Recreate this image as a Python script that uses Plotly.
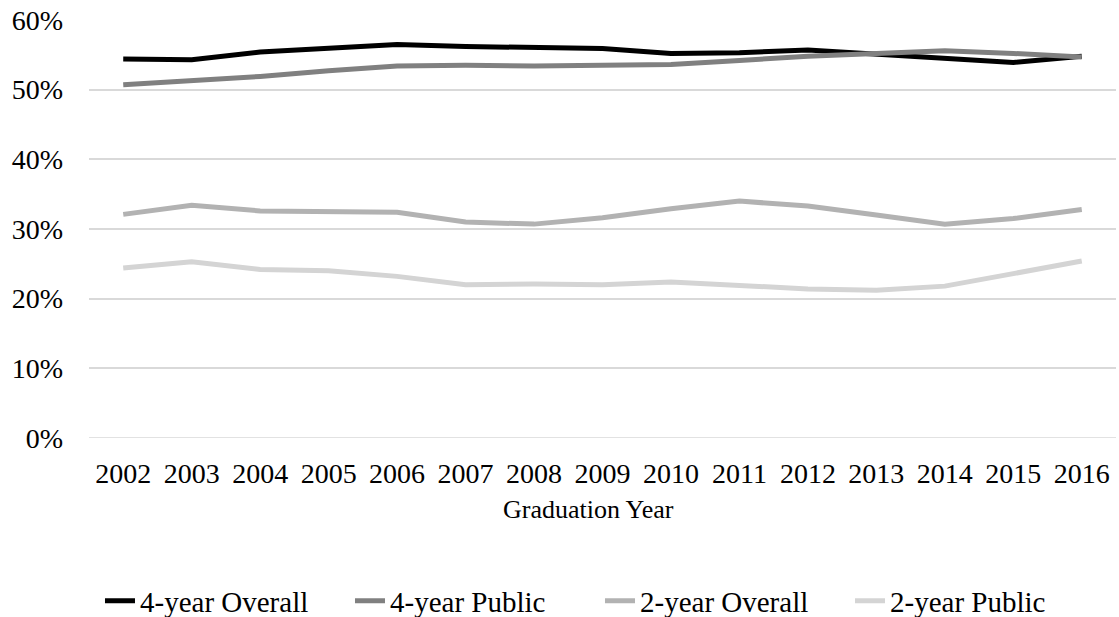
import plotly.graph_objects as go

years = [str(y) for y in range(2002, 2017)]

four_year_overall = [54.4, 54.3, 55.4, 56.0, 56.5, 56.2, 56.1, 55.9, 55.2, 55.3, 55.7, 55.1, 54.4, 53.9, 54.8]
four_year_public = [50.7, 51.3, 51.9, 52.7, 53.4, 53.5, 53.4, 53.5, 53.6, 54.2, 54.8, 55.2, 55.6, 55.2, 54.7]
two_year_overall = [32.1, 33.4, 32.6, 32.5, 32.4, 31.0, 30.7, 31.6, 32.9, 34.0, 33.3, 32.0, 30.7, 31.5, 32.8]
two_year_public = [24.4, 25.3, 24.2, 24.0, 23.2, 22.0, 22.1, 22.0, 22.4, 21.9, 21.4, 21.2, 21.8, 23.6, 25.4]

series = [
    ("4-year Overall", four_year_overall, "#000000"),
    ("4-year Public", four_year_public, "#808080"),
    ("2-year Overall", two_year_overall, "#b2b2b2"),
    ("2-year Public", two_year_public, "#d4d4d4"),
]

font_family = "Liberation Serif, Times New Roman, serif"

fig = go.Figure()
for name, vals, color in series:
    fig.add_trace(go.Scatter(
        x=years,
        y=[v / 100 for v in vals],
        name=name,
        mode="lines",
        line=dict(color=color, width=5, shape="linear"),
    ))

fig.update_layout(
    width=1119,
    height=617,
    margin=dict(l=89, r=3, t=20, b=179),
    paper_bgcolor="white",
    plot_bgcolor="white",
    font=dict(family=font_family, size=28, color="#000000"),
    showlegend=True,
    legend=dict(
        orientation="h",
        xref="paper",
        yref="container",
        x=0.0107,
        xanchor="left",
        y=0.026,
        yanchor="middle",
        font=dict(size=29),
        borderwidth=0,
        tracegroupgap=0,
        entrywidth=205,
        entrywidthmode="pixels",
    ),
    xaxis=dict(
        type="category",
        showgrid=False,
        showline=False,
        ticks="",
        tickfont=dict(size=28),
        ticklabelstandoff=16,
        automargin=False,
        range=[-0.5, 14.5],
    ),
    yaxis=dict(
        range=[0, 0.6],
        tickvals=[0, 0.1, 0.2, 0.3, 0.4, 0.5, 0.6],
        tickformat=".0%",
        showgrid=True,
        gridcolor="#d9d9d9",
        gridwidth=1.5,
        zeroline=False,
        showline=False,
        ticks="",
        tickfont=dict(size=28),
        ticklabelstandoff=25,
        automargin=False,
    ),
)

# axis title placed as an annotation under the year labels
fig.add_annotation(
    text="Graduation Year",
    xref="paper", yref="paper",
    x=0.486, y=-0.172,
    xanchor="center", yanchor="middle",
    showarrow=False,
    font=dict(family=font_family, size=26, color="#000000"),
)

fig.add_shape(
    type="line", xref="paper", yref="y", x0=0, x1=1, y0=0, y1=0,
    line=dict(color="#d9d9d9", width=1.5), layer="below",
)

fig.write_html("out.html")
